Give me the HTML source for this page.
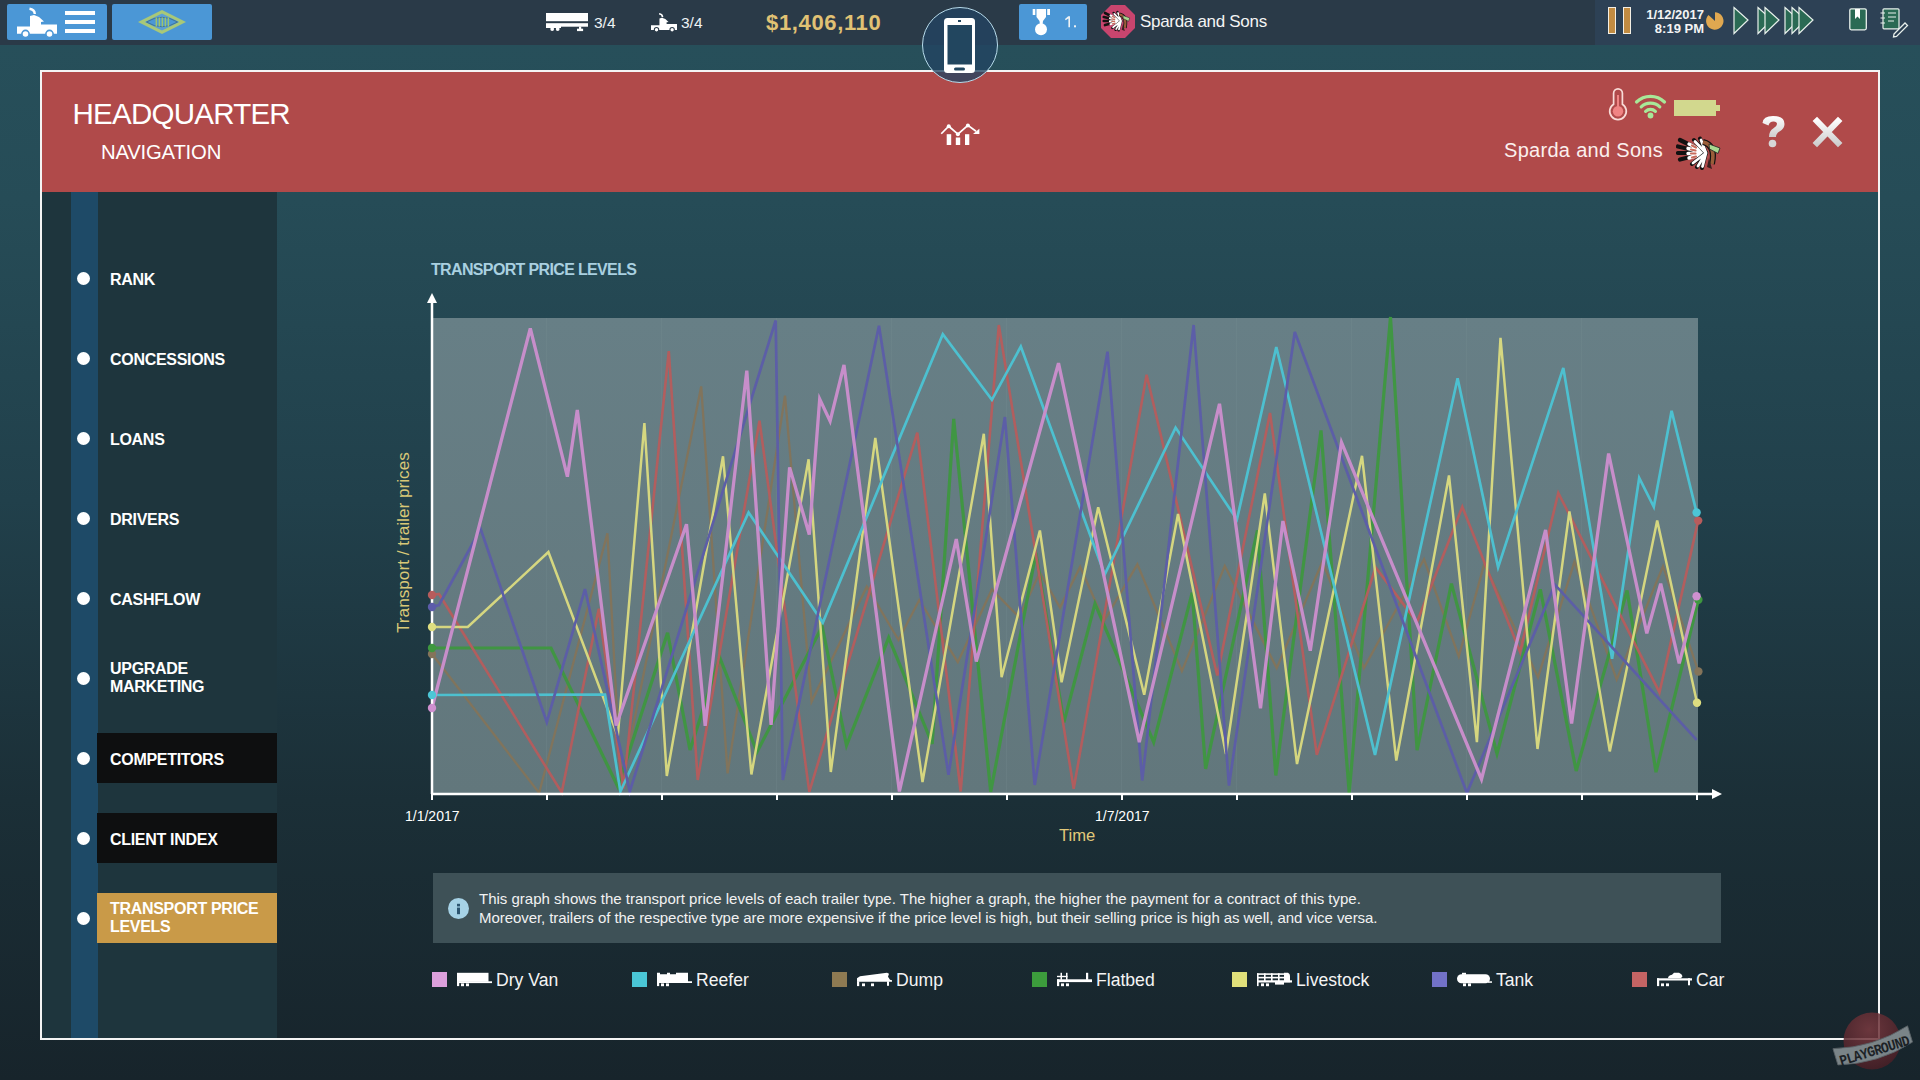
<!DOCTYPE html>
<html><head><meta charset="utf-8">
<style>
*{margin:0;padding:0;box-sizing:border-box}
html,body{width:1920px;height:1080px;overflow:hidden}
body{position:relative;font-family:"Liberation Sans",sans-serif;color:#fff;
background:linear-gradient(180deg,#27505b 0px,#264c57 200px,#21404b 500px,#1b2f37 800px,#17242b 1080px)}
.a{position:absolute}
#topbar{left:0;top:0;width:1920px;height:45px;background:#2a3a48}
#tr{left:1595px;top:0;width:325px;height:45px;background:#2d4155}
.btn{background:#4b97d6;border-radius:2px}
#panel{left:40px;top:70px;width:1840px;height:970px;border:2px solid #f4f4f4}
#hdr{left:42px;top:72px;width:1836px;height:120px;background:#b04a4a}
#side{left:42px;top:192px;width:235px;height:846px;background:#1e353d}
#strip{left:71px;top:192px;width:27px;height:846px;background:#1e4a67}
.dot{width:13px;height:13px;border-radius:50%;background:#fff}
.nav{left:110px;font-weight:bold;font-size:16px;line-height:18px;letter-spacing:-0.3px}
.navbox{left:97px;width:180px;height:50px}
.leg{top:972px;width:15px;height:15px}
.legt{top:970px;font-size:17.6px;color:#f4f4f4;margin-left:-2px}
</style></head><body>
<div id="topbar" class="a"></div>
<div id="tr" class="a"></div>
<div class="a btn" style="left:7px;top:4px;width:100px;height:36px"></div>
<div class="a btn" style="left:112px;top:4px;width:100px;height:36px"></div>
<div class="a btn" style="left:1019px;top:4px;width:68px;height:36px"></div>


<!-- top bar content -->
<svg class="a" style="left:7px;top:4px" width="100" height="36" viewBox="0 0 100 36">
 <g transform="translate(10,4)">
 <path d="M12.5 0.8 Q17.5 1.5 17.8 6" stroke="#fff" stroke-width="2.4" fill="none"/>
 <path d="M13 8 L17 7 L22 9 L27 13.5 L24 14 L24 16.4 L40 16.4 L40 25.8 L0 25.8 L0 18.5 L13 18.5 Z" fill="#fff"/>
 <circle cx="8.5" cy="26" r="3.6" fill="#fff" stroke="#4b97d6" stroke-width="1.6"/>
 <circle cx="32.5" cy="26" r="3.6" fill="#fff" stroke="#4b97d6" stroke-width="1.6"/>
 </g>
 <rect x="58" y="7" width="30" height="4" fill="#fff"/>
 <rect x="58" y="16" width="30" height="4" fill="#fff"/>
 <rect x="58" y="25" width="30" height="4" fill="#fff"/>
</svg>
<svg class="a" style="left:112px;top:4px" width="100" height="36" viewBox="0 0 100 36">
 <path d="M26 18 L50 6 L74 18 L50 30 Z" fill="#a8c878"/>
 <path d="M32.7 18 L50 9.4 L67.3 18 L50 26.6 Z" fill="#5b9fd6"/>
 <path d="M34.5 18 Q50 8.5 65.5 18 Q50 27.5 34.5 18 Z" fill="#4b97d6" stroke="#3f6f8c" stroke-width="0.9"/>
 <rect x="43.6" y="13.5" width="1.5" height="9" fill="#9cc470"/><rect x="46.6" y="13.5" width="1.5" height="9" fill="#9cc470"/>
 <rect x="49.6" y="13.5" width="1.5" height="9" fill="#9cc470"/><rect x="52.6" y="13.5" width="1.5" height="9" fill="#9cc470"/>
 <rect x="55.6" y="13.5" width="1.5" height="9" fill="#9cc470"/>
</svg>
<svg class="a" style="left:546px;top:13px" width="43" height="19" viewBox="0 0 43 19">
 <rect x="0" y="0" width="42" height="8.2" fill="#fff"/>
 <rect x="0" y="10.2" width="42" height="3.5" fill="#fff"/>
 <rect x="0" y="12" width="2" height="3" fill="#fff"/>
 <rect x="2" y="12" width="13" height="3" fill="#fff"/>
 <circle cx="6.2" cy="16" r="1.9" fill="#fff"/><circle cx="11.7" cy="16" r="1.9" fill="#fff"/>
 <rect x="33" y="13.5" width="2.2" height="3.5" fill="#fff"/><rect x="31" y="15.7" width="6.1" height="2.4" fill="#fff"/>
</svg>
<div class="a" style="left:594px;top:14px;font-size:15.5px;color:#eef2f4">3/4</div>
<svg class="a" style="left:651px;top:13px" width="26" height="19" viewBox="0 0 40 28.5">
 <path d="M12.5 0.8 Q17.5 1.5 17.8 6" stroke="#fff" stroke-width="2.4" fill="none"/>
 <path d="M13 8 L17 7 L22 9 L27 13.5 L24 14 L24 16.4 L40 16.4 L40 25.8 L0 25.8 L0 18.5 L13 18.5 Z" fill="#fff"/>
 <circle cx="8.5" cy="25.5" r="3.4" fill="#fff" stroke="#2a3a48" stroke-width="1.6"/>
 <circle cx="32.5" cy="25.5" r="3.4" fill="#fff" stroke="#2a3a48" stroke-width="1.6"/>
</svg>
<div class="a" style="left:681px;top:14px;font-size:15.5px;color:#eef2f4">3/4</div>
<div class="a" style="left:766px;top:10px;font-size:22px;font-weight:bold;color:#e1c274;letter-spacing:0.65px">$1,406,110</div>
<svg class="a" style="left:1019px;top:4px" width="68" height="36" viewBox="0 0 68 36">
 <path d="M13.7 5 L16.3 5 L16.3 11 L13.7 11 Z M17.5 5 L27 5 L27 13 L24 17 L23.5 21 L21 21 L20.5 17 L17.5 13 Z M28.2 5 L31 5 L31 11 L28.2 11 Z" fill="#fff"/>
 <circle cx="22" cy="25.2" r="6" fill="#fff"/>
</svg>
<svg class="a" style="left:1064px;top:15px" width="14" height="14" viewBox="0 0 14 14"><path d="M4.2 1.3 L6 1.3 L6 12.3 L4.4 12.3 L4.4 3.4 L1.6 5.2 L1 4 Z" fill="#eef2f4"/><rect x="10" y="10.3" width="2" height="2" fill="#eef2f4"/></svg>
<svg class="a" style="left:1101px;top:5px" width="35" height="34" viewBox="0 0 35 34">
 <path d="M10 0 L24 0 L34 10 L34 23 L24 33 L10 33 L0 23 L0 10 Z" fill="#c8456e"/>
 <g transform="translate(1.5,5.5) scale(0.62)">
 <g stroke-linecap="round">
 <path d="M30 17 L4 4 M30 17 L2 10.5 M30 17 L2 17 M30 17 L4 23.5" stroke="#111" stroke-width="4.2"/>
 <path d="M30 17 L13 8 M30 17 L12 12.5 M30 17 L12 17.5 M30 17 L13 22" stroke="#fff" stroke-width="3.4"/>
 <path d="M30 17 L18 4 M30 17 L24 2.5 M30 17 L16 28 M30 17 L21 31 M30 17 L26 32" stroke="#111" stroke-width="4"/>
 <path d="M30 17 L19 5.5 M30 17 L25 4 M30 17 L17 27 M30 17 L22 30 M30 17 L26.5 30.5" stroke="#fff" stroke-width="2.8"/>
 <path d="M16 9.5 L20 11.5 M15 13.5 L19.5 14.5 M15 17.5 L19.5 17.5 M16 21.5 L20 20.5" stroke="#c86c5c" stroke-width="2.2"/>
 </g>
 <path d="M27 6 Q40 9 36 28" stroke="#111" stroke-width="6" fill="none"/>
 <path d="M27 6 Q40 9 36 28" stroke="#9a5e3a" stroke-width="3.6" fill="none"/>
 <path d="M33 8 L44 12 L42 17.5 L33.5 13 Z" fill="#a8d890" stroke="#222" stroke-width="0.8"/>
 <path d="M33 22 L36 33 L31 31 Z" fill="#3a2020"/>
</g>
</svg>
<div class="a" style="left:1140px;top:11.5px;font-size:17px;color:#f4f4f4;letter-spacing:-0.3px">Sparda and Sons</div>
<!-- top right -->
<div class="a" style="left:1608px;top:7px;width:8px;height:27px;background:#c28c42;border:1.3px solid #f4efe4"></div>
<div class="a" style="left:1623px;top:7px;width:8px;height:27px;background:#c28c42;border:1.3px solid #f4efe4"></div>
<div class="a" style="left:1640px;top:8px;width:64px;font-size:13px;font-weight:bold;line-height:13.5px;text-align:right;color:#f4f4f4">1/12/2017<br>8:19 PM</div>
<svg class="a" style="left:1705px;top:11px" width="20" height="19" viewBox="0 0 20 19">
 <path d="M10 10 L3.5 4 A8.7 8.7 0 1 0 10 1.3 Z" fill="#e0a850"/>
</svg>
<svg class="a" style="left:1732px;top:6px" width="84" height="29" viewBox="0 0 84 29">
 <g fill="#2a6a54" stroke="#e8f0ec" stroke-width="1.2">
 <path d="M2 1.5 L16 14 L2 27.5 Z"/>
 <path d="M26 1.5 L40 14 L26 27.5 Z"/><path d="M33 1.5 L47 14 L33 27.5 Z"/>
 <path d="M53 1.5 L67 14 L53 27.5 Z"/><path d="M60 1.5 L74 14 L60 27.5 Z"/><path d="M67 1.5 L81 14 L67 27.5 Z"/>
 </g>
</svg>
<svg class="a" style="left:1849px;top:8px" width="19" height="23" viewBox="0 0 19 23">
 <rect x="0.8" y="0.8" width="16.5" height="21" rx="1.5" fill="#2a6a54" stroke="#e8f0ec" stroke-width="1.3"/>
 <path d="M6 1 L6 11 L8.5 8.5 L11 11 L11 1 Z" fill="#fff"/>
</svg>
<svg class="a" style="left:1880px;top:8px" width="30" height="30" viewBox="0 0 30 30">
 <rect x="3" y="0.8" width="16" height="20" rx="1" fill="#2a6a54" stroke="#e8f0ec" stroke-width="1.2"/>
 <path d="M0.5 5 H5 M0.5 10 H5 M0.5 15 H5 M8 5 H16 M8 9 H16 M8 13 H14" stroke="#e8f0ec" stroke-width="1.2"/>
 <path d="M14 26 L25 15 L27.5 17.5 L16.5 28.5 L13.5 29 Z" fill="#2a3e52" stroke="#e8f0ec" stroke-width="1.3"/>
</svg>
<div id="panel" class="a"></div>
<div id="hdr" class="a"></div>
<div id="side" class="a"></div>
<div id="strip" class="a"></div>

<div id="hq" class="a" style="left:72.5px;top:97px;font-size:29.5px;letter-spacing:-0.75px">HEADQUARTER</div>
<div id="nv" class="a" style="left:101px;top:140.5px;font-size:20.3px;letter-spacing:-0.2px">NAVIGATION</div>
<!-- header -->
<svg class="a" style="left:940px;top:123px" width="41" height="24" viewBox="0 0 41 24">
 <path d="M1.25 10.75 L8.75 3.25 L17.9 11.2 L27.9 2.4 L36 8.2" stroke="#fff" stroke-width="1.7" fill="none"/>
 <path d="M39.4 5.8 L39.4 10.9 L33 10.9 Z" fill="#fff"/>
 <circle cx="8.75" cy="3.25" r="2" fill="#fff"/><circle cx="17.9" cy="11.2" r="2" fill="#fff"/><circle cx="27.9" cy="2.4" r="2" fill="#fff"/>
 <rect x="6.7" y="11.2" width="4.5" height="10.8" fill="#fff"/>
 <rect x="15.8" y="14.5" width="4.4" height="7.5" fill="#fff"/>
 <rect x="25" y="11.2" width="4.3" height="10.8" fill="#fff"/>
</svg>
<svg class="a" style="left:1608px;top:88px" width="20" height="33" viewBox="0 0 20 33">
 <path d="M5.6 16.2 V5.3 A4.4 4.4 0 0 1 14.4 5.3 V16.2 A8.3 8.3 0 1 1 5.6 16.2 Z" fill="none" stroke="#f8dcd8" stroke-width="1.7"/>
 <rect x="9" y="7" width="2" height="14" fill="#f08484"/>
 <circle cx="10" cy="23.2" r="5.2" fill="#f08484"/>
</svg>
<svg class="a" style="left:1634px;top:92px" width="33" height="28" viewBox="0 0 33 28">
 <g fill="none" stroke="#a8e898" stroke-width="3.2" stroke-linecap="round">
 <path d="M2.5 10 A20 20 0 0 1 30.5 10"/>
 <path d="M7.2 14.8 A13.5 13.5 0 0 1 25.8 14.8"/>
 <path d="M11.6 19.3 A7 7 0 0 1 21.4 19.3"/>
 </g>
 <circle cx="16.5" cy="23.5" r="2.9" fill="#a8e898"/>
</svg>
<div class="a" style="left:1674px;top:100px;width:42px;height:16px;background:#d2d88e"></div>
<div class="a" style="left:1716px;top:104.5px;width:4px;height:6px;background:#d2d88e"></div>
<div class="a" style="left:1504px;top:139px;font-size:20px;color:#fbf0ee;letter-spacing:0.3px">Sparda and Sons</div>
<svg class="a" style="left:1676px;top:136px" width="48" height="36" viewBox="0 0 48 36">
 <g stroke-linecap="round">
 <path d="M30 17 L4 4 M30 17 L2 10.5 M30 17 L2 17 M30 17 L4 23.5" stroke="#111" stroke-width="4.2"/>
 <path d="M30 17 L13 8 M30 17 L12 12.5 M30 17 L12 17.5 M30 17 L13 22" stroke="#fff" stroke-width="3.4"/>
 <path d="M30 17 L18 4 M30 17 L24 2.5 M30 17 L16 28 M30 17 L21 31 M30 17 L26 32" stroke="#111" stroke-width="4"/>
 <path d="M30 17 L19 5.5 M30 17 L25 4 M30 17 L17 27 M30 17 L22 30 M30 17 L26.5 30.5" stroke="#fff" stroke-width="2.8"/>
 <path d="M16 9.5 L20 11.5 M15 13.5 L19.5 14.5 M15 17.5 L19.5 17.5 M16 21.5 L20 20.5" stroke="#c86c5c" stroke-width="2.2"/>
 </g>
 <path d="M27 6 Q40 9 36 28" stroke="#111" stroke-width="6" fill="none"/>
 <path d="M27 6 Q40 9 36 28" stroke="#9a5e3a" stroke-width="3.6" fill="none"/>
 <path d="M33 8 L44 12 L42 17.5 L33.5 13 Z" fill="#a8d890" stroke="#222" stroke-width="0.8"/>
 <path d="M33 22 L36 33 L31 31 Z" fill="#3a2020"/>
</svg>
<svg class="a" style="left:1761px;top:116px" width="26" height="33" viewBox="0 0 26 33">
 <defs><linearGradient id="gq" x1="0" y1="0" x2="0" y2="1"><stop offset="0" stop-color="#ffffff"/><stop offset="1" stop-color="#cfcfcf"/></linearGradient></defs>
 <path d="M1.5 7 Q2 0 12 0 Q23.5 0 23.5 8 Q23.5 13 18.5 15.5 Q15 17.5 15 21 L8 21 Q8 15 12.5 12.3 Q16 10.3 16 8 Q16 5.5 12.5 5.5 Q8.5 5.5 7.5 9.5 Z" fill="url(#gq)"/>
 <circle cx="11.5" cy="27.5" r="3.8" fill="#d6d6d6"/>
</svg>
<svg class="a" style="left:1810px;top:116px" width="34" height="33" viewBox="0 0 34 33">
 <defs><linearGradient id="gx" x1="0" y1="0" x2="0" y2="1"><stop offset="0" stop-color="#ffffff"/><stop offset="1" stop-color="#cdcdcd"/></linearGradient></defs>
 <path d="M4.8 2.9 L30.2 29.2 M30.2 2.9 L4.8 29.2" stroke="url(#gx)" stroke-width="6.2" stroke-linecap="butt"/>
</svg>

<!-- chart -->
<div class="a" style="left:431px;top:260.5px;font-size:16px;font-weight:bold;color:#a9d0e0;letter-spacing:-0.65px">TRANSPORT PRICE LEVELS</div>
<div class="a" style="left:433px;top:318px;width:1265px;height:475px;background:linear-gradient(180deg,#677f86,#62777c)"></div>
<svg id="chart" class="a" style="left:0;top:0" width="1920" height="1080" viewBox="0 0 1920 1080">
 <g stroke="#7a9196" stroke-width="1" opacity="0.22">
  <path d="M546.5 318V793 M661.5 318V793 M776.5 318V793 M891.5 318V793 M1006.5 318V793 M1121.5 318V793 M1236.5 318V793 M1351.5 318V793 M1466.5 318V793 M1581.5 318V793"/>
 </g>
 <g id="lines" opacity="0.93" fill="none" stroke-linejoin="miter" stroke-miterlimit="4">
  <polyline points="432.0,654.0 539.1,793.0 607.4,533.3 621.0,787.0 701.2,386.4 727.6,773.4 785.0,395.6 811.6,701.6 866.8,586.7 898.5,640.0 919.3,600.0 957.8,662.2 991.9,589.4 1019.2,617.3 1039.8,572.5 1060.0,607.5 1080.2,566.7 1104.0,621.0 1137.4,564.4 1181.9,671.1 1224.8,565.9 1276.7,668.1 1322.5,561.6 1363.9,668.0 1424.0,559.3 1458.8,656.5 1484.3,563.9 1538.0,677.3 1574.5,561.6 1616.7,679.6 1663.0,566.2 1698.4,671.5" stroke="#84745a" stroke-width="2.3"/>
  <polyline points="432.0,648.0 551.0,648.0 617.8,786.7 667.6,632.8 690.0,750.0 719.7,657.6 757.0,752.0 822.2,626.4 846.5,745.4 888.7,637.6 932.2,744.0 953.7,418.8 990.7,791.9 1035.9,553.1 1063.9,722.3 1095.0,603.6 1153.7,742.2 1192.2,592.6 1205.6,768.9 1257.4,530.4 1275.8,775.5 1321.0,430.4 1349.2,793.0 1390.5,317.0 1417.1,750.2 1451.4,583.6 1497.0,753.7 1540.3,589.4 1576.2,771.0 1627.1,590.5 1656.0,772.2 1698.4,599.8" stroke="#3e983f" stroke-width="3.2"/>
  <polyline points="432.0,595.0 439.0,594.0 561.7,792.5 598.8,608.7 623.5,788.5 668.8,351.2 697.7,780.0 759.5,420.6 809.3,791.9 917.3,432.7 960.7,791.5 998.8,325.0 1073.7,788.7 1146.6,374.8 1217.3,675.5 1270.0,413.0 1316.8,754.9 1375.5,567.4 1417.0,622.0 1462.3,506.8 1520.1,651.9 1558.3,492.9 1659.5,692.4 1698.2,520.6" stroke="#b85c5c" stroke-width="2.6"/>
  <polyline points="432.0,627.0 467.8,627.0 548.4,552.0 617.8,736.0 644.4,423.0 666.8,776.0 723.0,456.3 751.4,774.5 808.6,459.3 830.8,772.0 875.3,438.0 922.5,782.0 983.8,433.8 1001.6,677.2 1039.9,530.5 1061.6,682.3 1098.2,507.2 1144.2,694.8 1178.0,514.0 1226.0,754.0 1264.8,493.5 1297.0,764.1 1362.0,455.8 1396.3,760.6 1449.0,475.5 1476.9,742.1 1500.5,337.8 1537.5,749.0 1569.4,511.4 1609.8,751.4 1657.2,520.6 1697.0,702.8" stroke="#dede80" stroke-width="2.5"/>
  <polyline points="432.0,695.0 605.0,694.5 620.4,791.5 748.6,512.5 822.8,622.6 942.8,334.3 991.9,399.8 1020.8,346.6 1104.7,574.5 1175.6,427.6 1236.9,519.5 1276.3,347.0 1375.0,754.9 1457.6,378.3 1498.1,567.4 1563.3,367.9 1612.1,658.8 1639.2,477.8 1653.8,506.8 1671.6,410.7 1696.6,512.5" stroke="#4cc6d6" stroke-width="2.7"/>
  <polyline points="432.0,607.0 439.0,605.0 480.6,528.8 546.8,722.2 585.0,589.0 629.8,791.5 775.7,320.4 782.8,780.0 879.0,325.7 948.5,774.8 1004.9,417.0 1034.7,785.0 1107.5,351.7 1142.2,780.5 1193.6,325.0 1229.0,785.6 1294.8,332.0 1466.9,793.0 1554.9,584.7 1696.6,739.8" stroke="#5c5caa" stroke-width="2.7"/>
  <polyline points="432.0,708.0 530.3,328.5 567.4,476.7 577.3,410.0 616.2,725.5 686.5,524.2 705.2,725.9 746.8,370.6 771.1,724.8 789.6,467.4 809.3,534.5 819.7,399.1 830.1,421.1 844.0,364.9 899.4,791.5 956.3,539.0 976.3,661.5 1058.5,363.2 1139.3,742.2 1219.5,403.8 1260.5,708.3 1282.9,521.0 1310.3,650.7 1341.5,442.4 1481.5,779.2 1545.6,530.0 1571.6,723.6 1608.6,453.5 1646.8,633.3 1660.7,583.6 1679.2,663.4 1696.6,596.3" stroke="#cf90d0" stroke-width="3.3"/>
 </g>
 <path d="M432 794 V302" stroke="#fff" stroke-width="2.5"/>
 <path d="M427 303 L432 293 L437 303 Z" fill="#fff"/>
 <path d="M431 794 H1713" stroke="#fff" stroke-width="2.5"/>
 <path d="M1712 789 L1722 794 L1712 799 Z" fill="#fff"/>
 <path d="M432 794 V800 M547 794 V800 M662 794 V800 M777 794 V800 M892 794 V800 M1007 794 V800 M1122 794 V800 M1237 794 V800 M1352 794 V800 M1467 794 V800 M1582 794 V800 M1697 794 V800" stroke="#fff" stroke-width="2"/>
 <g id="dots">
  <circle cx="432" cy="654" r="4.2" fill="#84745a"/>
  <circle cx="1698.4" cy="671.5" r="4.2" fill="#84745a"/>
  <circle cx="432" cy="648" r="4.2" fill="#3e983f"/>
  <circle cx="1698.4" cy="599.8" r="4.2" fill="#3e983f"/>
  <circle cx="432" cy="595" r="4.2" fill="#b85c5c"/>
  <circle cx="1698.2" cy="520.6" r="4.2" fill="#b85c5c"/>
  <circle cx="432" cy="627" r="4.2" fill="#dede80"/>
  <circle cx="1697" cy="702.8" r="4.2" fill="#dede80"/>
  <circle cx="432" cy="695" r="4.2" fill="#4cc6d6"/>
  <circle cx="1696.6" cy="512.5" r="4.2" fill="#4cc6d6"/>
  <circle cx="432" cy="607" r="4.2" fill="#5c5caa"/>
  <circle cx="432" cy="708" r="4.2" fill="#cf90d0"/>
  <circle cx="1696.6" cy="596.3" r="4.2" fill="#cf90d0"/>
 </g>
</svg>
<div class="a" style="left:405px;top:807.5px;font-size:14px;color:#fff">1/1/2017</div>
<div class="a" style="left:1095px;top:807.5px;font-size:14px;color:#fff">1/7/2017</div>
<div class="a" style="left:1059px;top:825.5px;font-size:16.6px;color:#e1c97a">Time</div>
<div class="a" style="left:393px;top:633px;transform-origin:0 0;transform:rotate(-90deg);font-size:17.2px;color:#d9c877;white-space:nowrap">Transport / trailer prices</div>
<!-- info -->
<div class="a" style="left:433px;top:873px;width:1288px;height:70px;background:#3e5157"></div>
<svg class="a" style="left:447.5px;top:898px" width="21" height="21" viewBox="0 0 21 21"><circle cx="10.5" cy="10.5" r="10.5" fill="#a6d2e6"/><rect x="9" y="5.8" width="3" height="2.6" fill="#2c5570"/><rect x="9" y="9.6" width="3" height="6.6" fill="#2c5570"/></svg>
<div id="info" class="a" style="left:479px;top:889px;font-size:15px;line-height:19px;color:#f2f2f2;white-space:nowrap">This graph shows the transport price levels of each trailer type. The higher a graph, the higher the payment for a contract of this type.<br><span style="letter-spacing:-0.06px">Moreover, trailers of the respective type are more expensive if the price level is high, but their selling price is high as well, and vice versa.</span></div>
<!-- legend -->
<div class="a leg" style="left:432px;background:#dca0dc"></div>
<div class="a leg" style="left:632px;background:#4ac6d6"></div>
<div class="a leg" style="left:832px;background:#8e7a52"></div>
<div class="a leg" style="left:1032px;background:#3c9c3c"></div>
<div class="a leg" style="left:1232px;background:#e0e07a"></div>
<div class="a leg" style="left:1432px;background:#7272c8"></div>
<div class="a leg" style="left:1632px;background:#c46464"></div>
<div class="a legt" style="left:498px">Dry Van</div>
<div class="a legt" style="left:698px">Reefer</div>
<div class="a legt" style="left:898px">Dump</div>
<div class="a legt" style="left:1098px">Flatbed</div>
<div class="a legt" style="left:1298px">Livestock</div>
<div class="a legt" style="left:1498px">Tank</div>
<div class="a legt" style="left:1698px">Car</div>

<svg class="a" style="left:0;top:0" width="1920" height="1080" viewBox="0 0 1920 1080">
 <g fill="#fff">
  <g transform="translate(457,972.8)">
   <rect x="0" y="0" width="31.5" height="9"/><rect x="0" y="8.5" width="35" height="1.8"/><rect x="0" y="8.5" width="2.2" height="4.8"/>
   <rect x="4" y="10.6" width="3" height="2.8"/><rect x="9" y="10.6" width="3" height="2.8"/>
  </g>
  <g transform="translate(657,972.8)">
   <path d="M0 0 H3 V1.5 H10 V0 H13 V1.5 H19 V0 H31 V8.5 H35 V10.3 H13 V10.3 H0 Z"/>
   <rect x="0" y="8.5" width="2.2" height="4.8"/>
   <rect x="4" y="10.6" width="3" height="2.8"/><rect x="9" y="10.6" width="3" height="2.8"/>
  </g>
  <g transform="translate(857,972.8)">
   <path d="M0 5.5 L3 3.5 L30 0 L32 1 L31 4 L33 7 L35 7.5 L35 9 L0 9 Z"/>
   <rect x="0" y="8.5" width="2.2" height="4.8"/>
   <rect x="5" y="10.6" width="3" height="2.8"/><rect x="14" y="10.6" width="3" height="2.8"/>
   <rect x="30" y="8.5" width="2" height="4.5"/>
  </g>
  <g transform="translate(1057,972.8)">
   <rect x="0" y="6.5" width="35" height="2.8"/><rect x="0" y="6.5" width="2.2" height="6.8"/>
   <rect x="3.5" y="0" width="1.5" height="7"/><rect x="9" y="0" width="1.5" height="7"/><rect x="0" y="3" width="10.5" height="1.4"/>
   <rect x="29" y="0" width="2.2" height="7"/>
   <rect x="4" y="10.6" width="3" height="2.8"/><rect x="9" y="10.6" width="3" height="2.8"/>
  </g>
  <g transform="translate(1257,972.8)">
   <rect x="0" y="0.5" width="29" height="1.6"/><rect x="0" y="4" width="29" height="1.6"/><rect x="0" y="7.5" width="35" height="2.2"/>
   <rect x="0" y="0.5" width="1.6" height="12.8"/><rect x="7" y="0.5" width="1.6" height="8"/><rect x="14" y="0.5" width="1.6" height="8"/><rect x="21" y="0.5" width="1.6" height="8"/>
   <path d="M27 0 H31 Q33 1 33 3 V9.5 H27 Z"/>
   <rect x="18" y="8" width="9" height="3.8"/>
   <rect x="4" y="10.6" width="3" height="2.8"/><rect x="9" y="10.6" width="3" height="2.8"/>
  </g>
  <g transform="translate(1457,972.8)">
   <rect x="0" y="1.5" width="33" height="9" rx="4.5"/><rect x="5" y="0" width="4" height="2"/><rect x="31" y="8.5" width="4" height="1.5"/>
   <rect x="6" y="10.6" width="3" height="2.8"/><rect x="11" y="10.6" width="3" height="2.8"/>
  </g>
  <g transform="translate(1657,972.8)">
   <rect x="0" y="5.5" width="35" height="2.2"/><rect x="0" y="5.5" width="2.2" height="7.8"/><rect x="31" y="5.5" width="2" height="7"/>
   <path d="M11 5.5 Q11 2.5 15 2 L17 0 L22 0 Q25 1 25.5 3.5 L24 5.5 Z"/>
   <rect x="4" y="10.6" width="3" height="2.8"/><rect x="9" y="10.6" width="3" height="2.8"/>
  </g>
 </g>
</svg>
<!-- sidebar -->
<div class="a dot" style="left:76.5px;top:271.5px"></div><div class="a nav" style="top:270.5px">RANK</div>
<div class="a dot" style="left:76.5px;top:351.5px"></div><div class="a nav" style="top:350.5px">CONCESSIONS</div>
<div class="a dot" style="left:76.5px;top:431.5px"></div><div class="a nav" style="top:430.5px">LOANS</div>
<div class="a dot" style="left:76.5px;top:511.5px"></div><div class="a nav" style="top:510.5px">DRIVERS</div>
<div class="a dot" style="left:76.5px;top:591.5px"></div><div class="a nav" style="top:590.5px">CASHFLOW</div>
<div class="a dot" style="left:76.5px;top:671.5px"></div><div class="a nav" style="top:660px">UPGRADE<br>MARKETING</div>
<div class="a navbox" style="top:733px;background:#0e0f10"></div>
<div class="a dot" style="left:76.5px;top:751.5px"></div><div class="a nav" style="top:750.5px">COMPETITORS</div>
<div class="a navbox" style="top:813px;background:#0e0f10"></div>
<div class="a dot" style="left:76.5px;top:831.5px"></div><div class="a nav" style="top:830.5px">CLIENT INDEX</div>
<div class="a navbox" style="top:893px;background:#c99a48"></div>
<div class="a dot" style="left:76.5px;top:911.5px"></div><div class="a nav" style="top:900px">TRANSPORT PRICE<br>LEVELS</div>



<div class="a" style="left:922px;top:7px;width:76px;height:76px;border-radius:50%;background:rgba(34,68,98,0.78);border:1.5px solid #b8dcec;z-index:5"></div>
<svg class="a" style="left:944px;top:18px;z-index:6" width="31" height="55" viewBox="0 0 31 55">
 <rect x="0" y="0" width="31" height="55" rx="3.5" fill="#fff"/>
 <rect x="3.5" y="7" width="24.5" height="39.5" fill="#22465f"/>
 <rect x="14" y="2" width="3" height="2" fill="#22465f"/>
 <rect x="10" y="49.5" width="11" height="3" rx="1.5" fill="#22465f"/>
</svg>
<svg class="a" style="left:1830px;top:1005px;z-index:7" width="90" height="75" viewBox="0 0 90 75">
 <defs><radialGradient id="ball" cx="0.45" cy="0.3" r="0.7"><stop offset="0" stop-color="#7a3a40"/><stop offset="1" stop-color="#4a1f26"/></radialGradient></defs>
 <circle cx="42" cy="36" r="28.5" fill="url(#ball)" opacity="0.85"/>
 <g transform="rotate(-17 42 38)">
  <path d="M3 32 Q42 43 81 32 L81 49 Q42 60 3 49 Z" fill="#7a8488" stroke="#5a6266" stroke-width="0.8"/>
  <text x="42" y="51" text-anchor="middle" font-family="Liberation Mono" font-weight="bold" font-size="13" fill="#1c2226" letter-spacing="-0.6" transform="scale(1,1.15) translate(0,-6.8)">PLAYGROUND</text>
 </g>
</svg>

</body></html>
